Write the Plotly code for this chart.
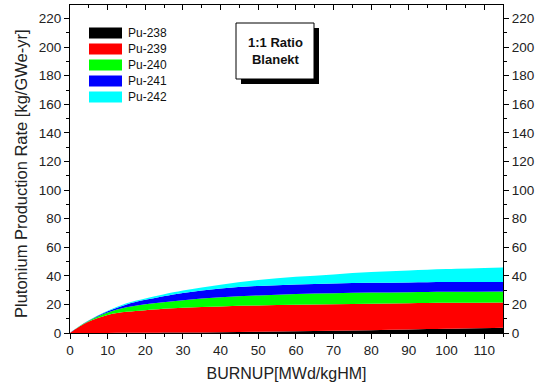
import plotly.graph_objects as go

burnup = [0, 2.5, 5, 10, 15, 20, 30, 40, 50, 60, 70, 80, 90, 100, 115]
cum_238 = [0, 0.0, 0.02, 0.05, 0.1, 0.2, 0.35, 0.6, 0.9, 1.2, 1.6, 2.0, 2.5, 3.0, 3.7]
cum_239 = [0, 4.5, 8.0, 12.6, 14.8, 16.0, 17.6, 18.6, 19.2, 19.7, 20.1, 20.5, 20.8, 21.1, 21.4]
cum_240 = [0, 4.7, 8.6, 14.3, 18.0, 20.2, 23.0, 25.0, 26.3, 27.3, 27.9, 28.3, 28.6, 28.8, 29.0]
cum_241 = [0, 4.8, 8.8, 15.2, 20.0, 23.2, 28.0, 31.2, 32.9, 34.0, 34.7, 35.1, 35.4, 35.6, 35.7]
cum_242 = [0, 4.85, 8.9, 15.6, 20.8, 24.2, 29.7, 33.8, 37.0, 39.3, 41.0, 42.6, 43.8, 44.8, 45.9]

names = ["Pu-238", "Pu-239", "Pu-240", "Pu-241", "Pu-242"]
colors = ["#000000", "#ff0000", "#00ff00", "#0000ff", "#00ffff"]
cums = [cum_238, cum_239, cum_240, cum_241, cum_242]
series = []
prev = [0] * len(burnup)
for c in cums:
    series.append([max(a - b, 0) for a, b in zip(c, prev)])
    prev = c

W, H = 540, 390
L, R, T, B = 70, 503, 5, 333

def px(x):
    return (x - L) / (R - L)

def py(y):
    return (B - y) / (B - T)

fig = go.Figure()
for n, col, s in zip(names, colors, series):
    fig.add_trace(go.Scatter(x=burnup, y=s, name=n, stackgroup="one", mode="none",
                             fillcolor=col, line=dict(shape="spline", width=0),
                             showlegend=False, hoverinfo="skip"))
# dummy for secondary axes
fig.add_trace(go.Scatter(x=[None], y=[None], xaxis="x2", yaxis="y2", showlegend=False))

font = "Liberation Sans, Arial, sans-serif"
common = dict(showgrid=False, zeroline=False, showline=True, linecolor="black", linewidth=1,
              tickcolor="black", ticklen=5, tickfont=dict(family=font, size=13.5, color="#222"))

fig.update_layout(
    width=W, height=H,
    margin=dict(l=L, r=W - R, t=T, b=H - B, autoexpand=False),
    paper_bgcolor="white", plot_bgcolor="white",
    font=dict(family=font, color="#222"),
    xaxis=dict(range=[0, 115], dtick=10, ticks="outside",
               minor=dict(dtick=5, ticks="outside", ticklen=3, tickcolor="black"),
               title=dict(text="BURNUP[MWd/kgHM]", font=dict(size=16), standoff=10), **common),
    yaxis=dict(range=[0, 229.5], dtick=20, ticks="outside",
               minor=dict(dtick=10, ticks="outside", ticklen=3, tickcolor="black"), **common),
    xaxis2=dict(range=[0, 115], dtick=10, ticks="inside", overlaying="x", side="top",
                showticklabels=False,
                minor=dict(dtick=5, ticks="inside", ticklen=3, tickcolor="black"), **common),
    yaxis2=dict(range=[0, 229.5], dtick=20, ticks="outside", overlaying="y", side="right",
                minor=dict(dtick=10, ticks="outside", ticklen=3, tickcolor="black"), **common),
)

shapes = []
annotations = []
row_y = [33, 49, 65, 81, 97]
for n, col, yy in zip(names, colors, row_y):
    shapes.append(dict(type="rect", xref="paper", yref="paper", x0=px(89), x1=px(122),
                       y0=py(yy + 5.5), y1=py(yy - 5.5), fillcolor=col, line=dict(width=0)))
    annotations.append(dict(xref="paper", yref="paper", x=px(126), y=py(yy), text=n,
                            showarrow=False, xanchor="left", yanchor="middle",
                            font=dict(size=12, family=font, color="#111")))
# annotation box with shadow
shapes.append(dict(type="rect", xref="paper", yref="paper", x0=px(241), x1=px(319),
                   y0=py(84), y1=py(28), fillcolor="black", line=dict(width=0)))
shapes.append(dict(type="rect", xref="paper", yref="paper", x0=px(236), x1=px(314),
                   y0=py(79), y1=py(23), fillcolor="white", line=dict(color="black", width=1)))
annotations.append(dict(xref="paper", yref="paper", x=px(275), y=py(51),
                        text="<b>1:1 Ratio</b><br><b>Blanekt</b>", showarrow=False,
                        xanchor="center", yanchor="middle",
                        font=dict(size=13, family=font, color="#111")))
# y-axis title
annotations.append(dict(xref="paper", yref="paper", x=px(21), y=py(174),
                        text="Plutonium Production Rate [kg/GWe-yr]", textangle=-90,
                        showarrow=False, xanchor="center", yanchor="middle",
                        font=dict(size=16.5, family=font, color="#222")))
fig.update_layout(shapes=shapes, annotations=annotations)

fig.write_html("out.html", config={"displayModeBar": False},
               post_script="document.body.style.margin='0';document.body.style.padding='0';")
